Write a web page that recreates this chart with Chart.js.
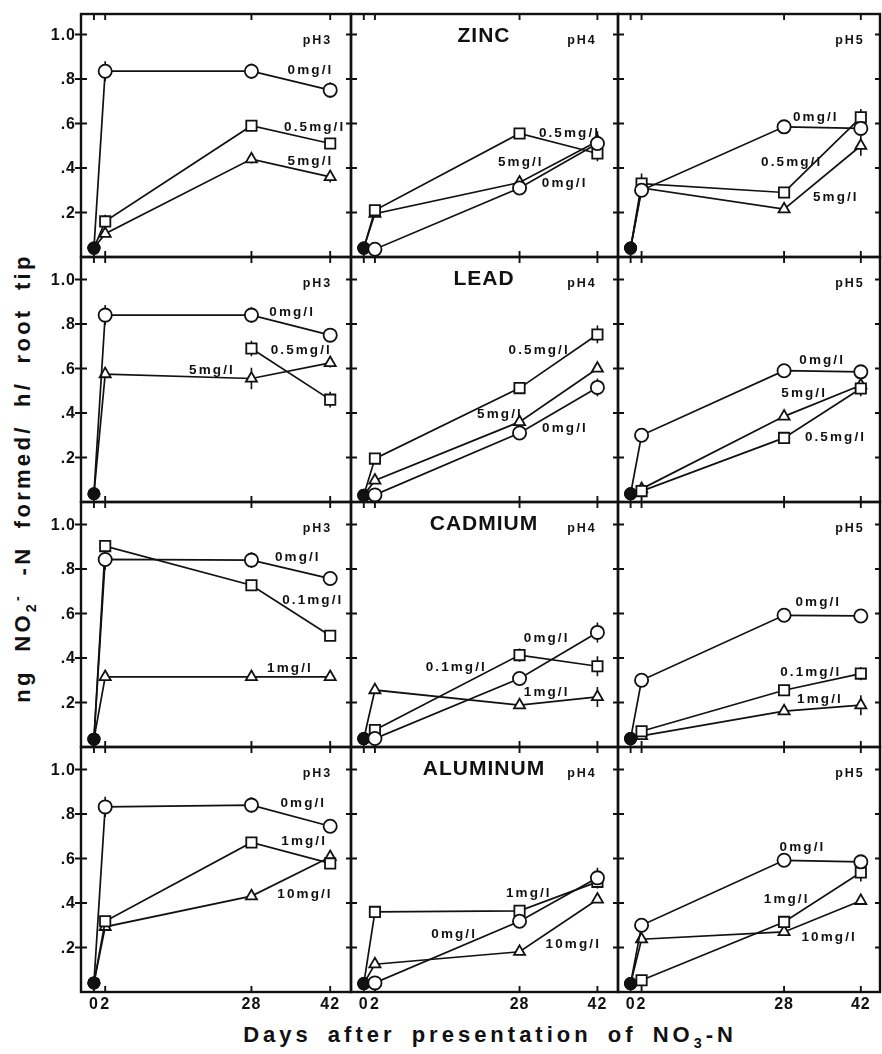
<!DOCTYPE html>
<html>
<head>
<meta charset="utf-8">
<script src="https://cdn.jsdelivr.net/npm/chart.js@4"></script>
<style>
  body { margin: 0; background: #fff; }
  #fig { position: relative; width: 882px; height: 1054px; overflow: hidden; background: #fff; }
  #fig canvas { position: absolute; }
  .txt { position: absolute; white-space: nowrap; font-family: "Liberation Sans", Arial, sans-serif;
         font-weight: bold; color: #111; line-height: 1; transform: translate(-50%, -50%); z-index: 5; }
  .conc { font-size: 13.5px; letter-spacing: 2.1px; }
  .ph { font-size: 12.5px; letter-spacing: 2px; }
  .metal { font-size: 21px; letter-spacing: 1px; }
  .ytick { font-size: 16px; letter-spacing: 1px; transform: translate(-100%, -50%); }
  .xtick { font-size: 16px; letter-spacing: 1px; }
  .xtitle { font-size: 22px; letter-spacing: 4px; word-spacing: 6px; }
  .ytitle { font-size: 22px; letter-spacing: 3.3px; word-spacing: 8px; transform: translate(-50%, -50%) rotate(-90deg); }
  sub, sup { font-size: 0.65em; }
</style>
</head>
<body>
<div id="fig"></div>
<script>
// ---- data ----
const days = [0, 2, 28, 42];
const xTickLabels = ['0', '2', '28', '42'];
const yTickValues = [0.2, 0.4, 0.6, 0.8, 1.0];
const yTickLabels = ['.2', '.4', '.6', '.8', '1.0'];
const metals = ['ZINC', 'LEAD', 'CADMIUM', 'ALUMINUM'];
const phLevels = ['pH3', 'pH4', 'pH5'];

const zincConc = ['0mg/l', '0.5mg/l', '5mg/l'];
const leadConc = ['0mg/l', '0.5mg/l', '5mg/l'];
const cadmiumConc = ['0mg/l', '0.1mg/l', '1mg/l'];
const aluminumConc = ['0mg/l', '1mg/l', '10mg/l'];

// each panel: [control (circle), middle dose (square), high dose (triangle)] at days 0, 2, 28, 42
const zincPh3 = [[0.04, 0.835, 0.835, 0.75], [0.04, 0.16, 0.59, 0.51], [0.04, 0.105, 0.44, 0.36]];
const zincPh4 = [[0.04, 0.035, 0.31, 0.51], [0.04, 0.21, 0.555, 0.465], [0.04, 0.195, 0.335, 0.52]];
const zincPh5 = [[0.04, 0.30, 0.585, 0.578], [0.04, 0.33, 0.29, 0.628], [0.04, 0.31, 0.215, 0.50]];
const leadPh3 = [[0.037, 0.84, 0.84, 0.75], [null, null, 0.69, 0.46], [0.037, 0.575, 0.555, 0.625]];
const leadPh4 = [[0.03, 0.032, 0.31, 0.515], [0.03, 0.195, 0.512, 0.753], [0.03, 0.097, 0.36, 0.60]];
const leadPh5 = [[0.037, 0.30, 0.59, 0.585], [0.037, 0.049, 0.288, 0.51], [0.037, 0.059, 0.385, 0.525]];
const cadmiumPh3 = [[0.035, 0.843, 0.84, 0.757], [0.035, 0.903, 0.727, 0.50], [0.035, 0.315, 0.315, 0.315]];
const cadmiumPh4 = [[0.038, 0.038, 0.308, 0.515], [0.038, 0.076, 0.413, 0.363], [0.038, 0.256, 0.188, 0.225]];
const cadmiumPh5 = [[0.038, 0.30, 0.592, 0.589], [0.038, 0.071, 0.255, 0.33], [0.038, 0.05, 0.161, 0.188]];
const aluminumPh3 = [[0.041, 0.832, 0.84, 0.745], [0.041, 0.318, 0.672, 0.578], [0.041, 0.293, 0.431, 0.607]];
const aluminumPh4 = [[0.038, 0.041, 0.318, 0.513], [0.038, 0.36, 0.365, 0.495], [0.038, 0.125, 0.181, 0.416]];
const aluminumPh5 = [[0.038, 0.30, 0.592, 0.585], [0.038, 0.053, 0.315, 0.537], [0.038, 0.237, 0.27, 0.41]];

// half-length of the error bars (same shape as above)
const zincPh3Err = [[0, 0.045, 0.035, 0.035], [0, 0.03, 0.022, 0.025], [0, 0, 0.02, 0.025]];
const zincPh4Err = [[0, 0, 0.025, 0], [0, 0.02, 0.02, 0.035], [0, 0, 0, 0.045]];
const zincPh5Err = [[0, 0, 0, 0.03], [0, 0.045, 0.02, 0.037], [0, 0, 0.015, 0.045]];
const leadPh3Err = [[0, 0.045, 0.035, 0.02], [0, 0, 0.035, 0.035], [0, 0, 0.048, 0.02]];
const leadPh4Err = [[0, 0, 0, 0.04], [0, 0, 0, 0.04], [0, 0, 0.015, 0]];
const leadPh5Err = [[0, 0, 0, 0], [0, 0, 0, 0.035], [0, 0, 0, 0]];
const cadmiumPh3Err = [[0, 0.045, 0.035, 0.03], [0, 0, 0, 0], [0, 0, 0, 0]];
const cadmiumPh4Err = [[0, 0, 0, 0.045], [0, 0, 0.03, 0.045], [0, 0, 0, 0.045]];
const cadmiumPh5Err = [[0, 0, 0, 0], [0, 0, 0, 0.03], [0, 0, 0, 0.045]];
const aluminumPh3Err = [[0, 0.045, 0.035, 0.03], [0, 0, 0, 0], [0, 0, 0, 0]];
const aluminumPh4Err = [[0, 0, 0, 0.045], [0, 0, 0, 0.03], [0, 0, 0, 0]];
const aluminumPh5Err = [[0, 0, 0, 0.02], [0, 0, 0, 0.04], [0, 0, 0, 0]];

const panelValues = [
  [zincPh3, zincPh4, zincPh5],
  [leadPh3, leadPh4, leadPh5],
  [cadmiumPh3, cadmiumPh4, cadmiumPh5],
  [aluminumPh3, aluminumPh4, aluminumPh5]
];
const panelErrors = [
  [zincPh3Err, zincPh4Err, zincPh5Err],
  [leadPh3Err, leadPh4Err, leadPh5Err],
  [cadmiumPh3Err, cadmiumPh4Err, cadmiumPh5Err],
  [aluminumPh3Err, aluminumPh4Err, aluminumPh5Err]
];
const concByMetal = [zincConc, leadConc, cadmiumConc, aluminumConc];

// ---- layout ----
const colEdges = [81, 351, 618, 880];
const rowEdges = [14, 257, 502, 747, 992];
const xMin = -2.3;
const xMaxByCol = [45.7, 45.7, 45.5];
const pxPerUnit = 222.5;
const PAD = 14;
const markers = [
  { style: 'circle', radius: 6.6 },
  { style: 'rect', radius: 7.3 },
  { style: 'triangle', radius: 6.4 }
];
const phX = [317.5, 582, 850];
const metalX = 484;
// [row, col, series, centre x, centre y]
const concSpots = [
  [0, 0, 0, 310.5, 70], [0, 0, 1, 314.7, 126.7], [0, 0, 2, 310.5, 160.7],
  [0, 1, 1, 569.5, 132.7], [0, 1, 2, 520.8, 161.7], [0, 1, 0, 564.7, 183.3],
  [0, 2, 0, 815.8, 117.3], [0, 2, 1, 791.7, 161.7], [0, 2, 2, 835.8, 197.3],
  [1, 0, 0, 292.2, 311.7], [1, 0, 1, 301.3, 350], [1, 0, 2, 212, 370],
  [1, 1, 1, 539.2, 350], [1, 1, 2, 500, 414], [1, 1, 0, 565, 428.3],
  [1, 2, 0, 822.2, 360], [1, 2, 2, 804.2, 393.3], [1, 2, 1, 835.5, 436.7],
  [2, 0, 0, 297.8, 556.7], [2, 0, 1, 312.8, 600], [2, 0, 2, 290, 668.3],
  [2, 1, 0, 546.7, 638.3], [2, 1, 1, 456.3, 666.7], [2, 1, 2, 546.7, 691.7],
  [2, 2, 0, 818.3, 601.7], [2, 2, 1, 810.8, 671.7], [2, 2, 2, 820, 699],
  [3, 0, 0, 303.3, 803.3], [3, 0, 1, 304.2, 840.7], [3, 0, 2, 305, 894],
  [3, 1, 1, 528.8, 893.3], [3, 1, 0, 454.2, 934.3], [3, 1, 2, 573.3, 944],
  [3, 2, 0, 802.5, 847.3], [3, 2, 1, 786.7, 899.3], [3, 2, 2, 829.2, 937.3]
];

const fig = document.getElementById('fig');
const INK = '#111';

function addText(cls, html, x, y) {
  const d = document.createElement('div');
  d.className = 'txt ' + cls;
  d.innerHTML = html;
  d.style.left = x + 'px';
  d.style.top = y + 'px';
  fig.appendChild(d);
  return d;
}

// frame, tick marks and error bars, all placed with the chart's own scales
const panelFrame = {
  id: 'panelFrame',
  beforeDatasetsDraw(chart, args, opts) {
    const { ctx, chartArea: a } = chart;
    const x = chart.scales.x, y = chart.scales.y;
    ctx.save();
    ctx.strokeStyle = INK;
    ctx.lineCap = 'butt';

    // error bars first so the open markers sit on top
    ctx.lineWidth = 1.6;
    ctx.beginPath();
    chart.data.datasets.forEach(ds => {
      ds.data.forEach(p => {
        if (!p.err) return;
        const px = x.getPixelForValue(p.x);
        ctx.moveTo(px, y.getPixelForValue(p.y + p.err));
        ctx.lineTo(px, y.getPixelForValue(p.y - p.err));
      });
    });
    ctx.stroke();

    ctx.lineWidth = 1.9;
    ctx.beginPath();
    yTickValues.forEach(v => {
      const py = y.getPixelForValue(v);
      ctx.moveTo(a.left - (opts.outerLeft ? 6 : 0), py);
      ctx.lineTo(a.left + 6, py);
      ctx.moveTo(a.right - 5, py);
      ctx.lineTo(a.right, py);
    });
    days.forEach(d => {
      const px = x.getPixelForValue(d);
      ctx.moveTo(px, a.top);
      ctx.lineTo(px, a.top + 6);
      ctx.moveTo(px, a.bottom);
      ctx.lineTo(px, a.bottom - 6);
    });
    ctx.stroke();

    ctx.lineWidth = 2.4;
    ctx.strokeRect(a.left, a.top, a.right - a.left, a.bottom - a.top);
    ctx.restore();
  }
};

function makeDataset(values, errs, k) {
  const m = markers[k];
  const pts = [];
  values.forEach((v, i) => {
    if (v === null) return;
    pts.push({ x: days[i], y: v, err: errs[i] });
  });
  const isStart = c => c.raw && c.raw.x === 0;
  return {
    data: pts,
    borderColor: INK,
    borderWidth: 1.7,
    tension: 0,
    fill: false,
    clip: false,
    pointStyle: c => isStart(c) ? 'circle' : m.style,
    pointRadius: c => isStart(c) ? 5.6 : m.radius,
    pointBackgroundColor: c => isStart(c) ? INK : '#fff',
    pointBorderColor: INK,
    pointBorderWidth: 1.8
  };
}

for (let r = 0; r < 4; r++) {
  for (let c = 0; c < 3; c++) {
    const left = colEdges[c], right = colEdges[c + 1];
    const top = rowEdges[r], bottom = rowEdges[r + 1];
    const w = right - left, h = bottom - top;
    const cv = document.createElement('canvas');
    cv.width = w + 2 * PAD;
    cv.height = h + 2 * PAD;
    cv.style.left = (left - PAD) + 'px';
    cv.style.top = (top - PAD) + 'px';
    cv.style.width = cv.width + 'px';
    cv.style.height = cv.height + 'px';
    fig.appendChild(cv);

    const datasets = panelValues[r][c].map((vals, k) => makeDataset(vals, panelErrors[r][c][k], k));
    new Chart(cv, {
      type: 'line',
      data: { datasets },
      options: {
        responsive: false,
        animation: false,
        devicePixelRatio: 1,
        layout: { padding: PAD },
        plugins: {
          legend: { display: false },
          tooltip: { enabled: false },
          panelFrame: { outerLeft: c === 0 }
        },
        scales: {
          x: { type: 'linear', min: xMin, max: xMaxByCol[c], display: false },
          y: { type: 'linear', min: 0, max: h / pxPerUnit, display: false }
        }
      },
      plugins: [panelFrame]
    });

    // pH label of the panel
    addText('ph', phLevels[c], phX[c], top + 26);

    // x tick labels on the bottom row
    if (r === 3) {
      const ppd = w / (xMaxByCol[c] - xMin);
      days.forEach((d, i) => addText('xtick', xTickLabels[i], left + (d - xMin) * ppd, 1004));
    }
  }
  // metal name and y tick labels
  addText('metal', metals[r], metalX, rowEdges[r] + 19.5);
  yTickValues.forEach((v, i) => addText('ytick', yTickLabels[i], 76, rowEdges[r + 1] - v * pxPerUnit));
}

concSpots.forEach(([r, c, k, x, y]) => addText('conc', concByMetal[r][k], x, y));

addText('ytitle', 'ng NO<sub>2</sub><sup>-</sup> -N formed/ h/ root tip', 24, 478);
addText('xtitle', 'Days after presentation of NO<sub>3</sub>-N', 490, 1037);
</script>
</body>
</html>
